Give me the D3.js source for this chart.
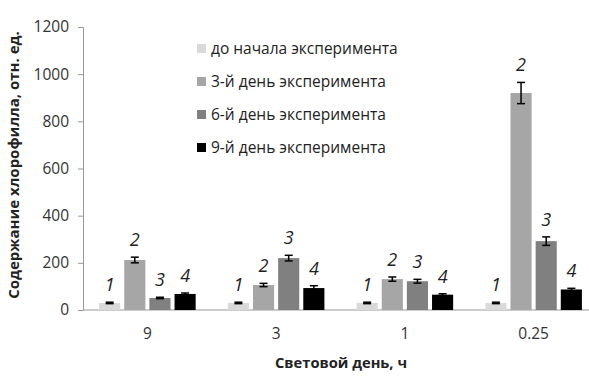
<!DOCTYPE html>
<html>
<head>
<meta charset="utf-8">
<script src="https://cdn.jsdelivr.net/npm/d3@7"></script>
<style>
body{margin:0;background:#fff}
svg text{font-family:"Open Sans","DejaVu Sans",sans-serif}
</style>
</head>
<body>
<div id="chart"></div>
<script>
// light day, hours
var categories = ["9", "3", "1", "0.25"]
var seriesNames = ["до начала эксперимента", "3-й день эксперимента", "6-й день эксперимента", "9-й день эксперимента"]
var seriesLabels = ["1", "2", "3", "4"]
var seriesColors = ["#d9d9d9", "#a6a6a6", "#808080", "#000000"]
// values per series, one per category
var day0 = [30, 30, 30, 30]
var day3 = [212, 106, 131, 920]
var day6 = [51, 220, 122, 292]
var day9 = [68, 93, 65, 87]
// error (±)
var err0 = [3, 3, 3, 3]
var err3 = [12, 7, 9, 45]
var err6 = [3, 12, 8, 18]
var err9 = [4, 10, 4, 5]
var yTicks = [0, 200, 400, 600, 800, 1000, 1200]

var values = [day0, day3, day6, day9]
var errors = [err0, err3, err6, err9]

var width = 589, height = 378
var plotLeft = 83, plotRight = 598, plotTop = 27, plotBottom = 310

var svg = d3.select("#chart").append("svg")
	.attr("width", width)
	.attr("height", height)

var x = d3.scaleBand().domain(categories).range([plotLeft, plotRight]).paddingInner(0.25).paddingOuter(0.125)
var xs = d3.scaleBand().domain(seriesLabels).range([0, x.bandwidth()]).paddingInner(0.16)
var y = d3.scaleLinear().domain([0, 1200]).range([plotBottom, plotTop])

// y axis
var yAxis = svg.append("g")
	.attr("transform", "translate(" + plotLeft + ",0)")
	.call(d3.axisLeft(y).tickValues(yTicks).tickSize(5).tickPadding(9).tickFormat(d3.format("d")))
yAxis.selectAll("path,line").attr("stroke", "#999")
yAxis.selectAll("text").attr("font-size", 15.5).attr("fill", "#333").attr("font-family", null)

// x axis line
svg.append("line")
	.attr("x1", plotLeft).attr("x2", width)
	.attr("y1", plotBottom).attr("y2", plotBottom)
	.attr("stroke", "#999")

svg.selectAll(".xlab")
	.data(categories)
	.enter().append("text")
	.attr("class", "xlab")
	.attr("x", d => x(d) + x.bandwidth() / 2)
	.attr("y", 339)
	.attr("text-anchor", "middle")
	.attr("font-size", 15.5)
	.attr("fill", "#333")
	.text(d => d)

// bars
var rows = []
values.forEach((s, i) => {
	s.forEach((v, j) => {
		rows.push({cat: categories[j], series: i, v: v, e: errors[i][j]})
	})
})

svg.selectAll(".bar")
	.data(rows)
	.enter().append("rect")
	.attr("class", "bar")
	.attr("x", d => x(d.cat) + xs(seriesLabels[d.series]))
	.attr("width", xs.bandwidth())
	.attr("y", d => y(d.v))
	.attr("height", d => y(0) - y(d.v))
	.attr("fill", d => seriesColors[d.series])

// error bars
var eb = svg.selectAll(".err")
	.data(rows)
	.enter().append("g")
	.attr("class", "err")
	.attr("transform", d => "translate(" + (x(d.cat) + xs(seriesLabels[d.series]) + xs.bandwidth() / 2) + ",0)")
eb.append("line")
	.attr("y1", d => y(d.v - d.e)).attr("y2", d => y(d.v + d.e))
	.attr("stroke", "#000").attr("stroke-width", 1.5)
eb.selectAll(".cap")
	.data(d => [d.v - d.e, d.v + d.e])
	.enter().append("line")
	.attr("x1", -4).attr("x2", 4)
	.attr("y1", d => y(d)).attr("y2", d => y(d))
	.attr("stroke", "#000").attr("stroke-width", 1.5)

// numbers above bars
svg.selectAll(".num")
	.data(rows)
	.enter().append("text")
	.attr("class", "num")
	.attr("x", d => x(d.cat) + xs(seriesLabels[d.series]) + xs.bandwidth() / 2)
	.attr("y", d => y(d.v + d.e) - 11)
	.attr("text-anchor", "middle")
	.attr("font-size", 18)
	.attr("font-style", "italic")
	.attr("fill", "#222")
	.text(d => seriesLabels[d.series])

// legend
var legend = svg.selectAll(".leg")
	.data(seriesNames)
	.enter().append("g")
	.attr("class", "leg")
	.attr("transform", (d, i) => "translate(197," + (48 + i * 33) + ")")
legend.append("rect")
	.attr("x", 0).attr("y", -4)
	.attr("width", 9).attr("height", 9)
	.attr("fill", (d, i) => seriesColors[i])
legend.append("text")
	.attr("x", 14).attr("y", 5.5)
	.attr("font-size", 15.5)
	.attr("fill", "#222")
	.text(d => d)

// axis titles
svg.append("text")
	.attr("transform", "translate(19,165) rotate(-90)")
	.attr("text-anchor", "middle")
	.attr("font-size", 15)
	.attr("font-weight", "bold")
	.attr("fill", "#222")
	.text("Содержание хлорофилла, отн. ед.")

svg.append("text")
	.attr("x", 341).attr("y", 368)
	.attr("text-anchor", "middle")
	.attr("font-size", 14.7)
	.attr("font-weight", "bold")
	.attr("fill", "#222")
	.text("Световой день, ч")
</script>
</body>
</html>
